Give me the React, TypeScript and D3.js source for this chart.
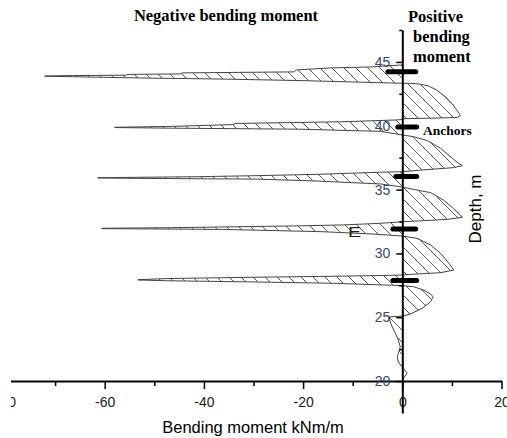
import React, { useEffect, useRef } from 'react';
import * as d3 from 'd3';

// depth (m) and bending moment (kNm/m) along the wall, read top to bottom
const depth = [
  44.76, 44.69, 44.61, 44.53, 44.37, 44.22, 44.14, 44.06, 44.02, 43.96, 43.93, 43.9,
  43.88, 43.84, 43.73, 43.66, 43.54, 43.35, 43.33,
  43.32, 43.28, 43.12, 42.8, 42.33, 41.71, 41.16, 40.81, 40.65, 40.61, 40.55,
  40.49, 40.45, 40.31, 40.18, 40.09, 39.95, 39.88,
  39.86, 39.81, 39.73, 39.56, 39.28,
  39.15, 38.83, 38.24, 37.45, 37.06, 36.87, 36.72, 36.54, 36.4,
  36.36, 36.28, 36.2, 36.09, 36.01, 35.96, 35.93,
  35.91, 35.88, 35.82, 35.67, 35.44, 35.2,
  35.02, 34.76, 34.18, 33.53, 33.01, 32.83, 32.67, 32.56, 32.48,
  32.36, 32.23, 32.15, 32.07, 32.01, 31.97,
  31.94, 31.91, 31.88, 31.7, 31.52, 31.36,
  31.18, 30.66, 30.01, 29.22, 28.7, 28.49, 28.39, 28.31,
  28.27, 28.21, 28.13, 28.03, 27.94,
  27.92, 27.86, 27.77, 27.66, 27.48,
  27.39, 27.13, 26.82, 26.61, 26.21, 25.7, 25.25, 25.09,
  25.02, 24.39, 23.76, 23.21, 22.66, 22.19, 21.88, 21.49, 21.1, 20.63, 20.31, 20.04,
];
const moment = [
  0, -3.4, -5.9, -14.5, -21.4, -21.8, -44.4, -44.8, -55.3, -55.8, -66.5, -72.1,
  -72.1, -66.5, -50.9, -36.8, -20.6, -2.4, 0,
  1.6, 3.2, 5.3, 6.9, 8.5, 10.1, 11.1, 11.7, 11.1, 7.7, 0,
  0, -1.4, -12.5, -33.5, -34.3, -46.5, -58.0,
  -58.0, -46.5, -20.6, -4.4, 0,
  2.2, 5.1, 7.7, 10.1, 11.3, 12.1, 10.3, 4.2, 0,
  -4.4, -10.5, -16.6, -29.3, -41.2, -53.5, -61.4,
  -61.4, -53.5, -29.3, -17.2, -4.4, 0,
  2.2, 5.7, 8.3, 10.3, 11.7, 12.1, 9.1, 4.2, 0,
  -4.4, -11.9, -22.0, -36.8, -47.5, -60.6,
  -60.6, -47.5, -36.2, -16.0, -5.9, 0,
  3.0, 5.7, 7.7, 9.4, 10.4, 7.7, 3.0, 0,
  -3.8, -13.9, -30.7, -47.5, -53.3,
  -53.3, -47.5, -30.7, -13.9, 0,
  2.3, 4.3, 5.7, 6.2, 5.7, 4.0, 1.6, 0,
  -2.8, -2.2, -1.4, -0.8, -0.4, -0.8, -1.0, -0.8, 0, 1.0, 0.4, 0,
];

const anchorDepth = [44.22, 39.91, 36.03, 31.91, 27.88];
const anchorFrom = [-2.9, -0.9, -1.3, -1.9, -1.9];
const anchorTo = [2.7, 2.9, 2.9, 2.7, 2.9];

const xTicks = [-80, -60, -40, -20, 0, 20];
const xMinor = [-70, -50, -30, -10, 10];
const yTicks = [20, 25, 30, 35, 40, 45];
const yMinor = [22.5, 27.5, 32.5, 37.5, 42.5, 47.5];

const sans = '"Liberation Sans", Arial, sans-serif';
const serif = '"Liberation Serif", "Times New Roman", serif';

const App = () => {
  const svgRef = useRef(null);

  const width = 507;
  const height = 438;

  const xScale = d3.scaleLinear().domain([-80, 20]).range([5.5, 501.5]);
  const yScale = d3.scaleLinear().domain([17.5, 47.5]).range([413, 30]);

  useEffect(() => {
    const svg = d3.select(svgRef.current);
    svg.selectAll('*').remove();

    const defs = svg.append('defs');
    defs
      .append('clipPath')
      .attr('id', 'crop')
      .append('rect')
      .attr('x', 11)
      .attr('y', 0)
      .attr('width', width - 11)
      .attr('height', height);

    // diagonal hatching for the moment diagram
    defs
      .append('pattern')
      .attr('id', 'hatch')
      .attr('patternUnits', 'userSpaceOnUse')
      .attr('width', 12)
      .attr('height', 12)
      .append('path')
      .attr('d', 'M0,0L12,12M-3,9L3,15M9,-3L15,3')
      .attr('stroke', '#333')
      .attr('stroke-width', 0.8);

    const g = svg.append('g').attr('clip-path', 'url(#crop)');

    const pts = depth.map((z, i) => ({ z, m: moment[i] }));

    const area = d3
      .area<{ z: number; m: number }>()
      .x0(xScale(0))
      .x1((d) => xScale(d.m))
      .y((d) => yScale(d.z));

    const line = d3
      .line<{ z: number; m: number }>()
      .x((d) => xScale(d.m))
      .y((d) => yScale(d.z));

    g.append('path').datum(pts).attr('fill', 'url(#hatch)').attr('d', area);

    g.append('path')
      .datum(pts)
      .attr('fill', 'none')
      .attr('stroke', '#444')
      .attr('stroke-width', 1)
      .attr('d', line);

    // x axis
    const xAxis = g.append('g').attr('transform', `translate(0, ${yScale(20)})`);
    xAxis.call(
      d3
        .axisBottom(xScale)
        .tickValues(xTicks)
        .tickSize(8)
        .tickPadding(8)
        .tickSizeOuter(0)
        .tickFormat((d) => String(d))
    );
    xAxis
      .append('g')
      .attr('class', 'minor')
      .call(
        d3
          .axisBottom(xScale)
          .tickValues(xMinor)
          .tickSize(5)
          .tickSizeOuter(0)
          .tickFormat(() => '')
      );
    xAxis.select('.minor .domain').remove();
    xAxis.selectAll('.domain').attr('stroke', '#000').attr('stroke-width', 2);
    xAxis.selectAll('line').attr('stroke', '#000').attr('stroke-width', 1.5);
    xAxis
      .selectAll('text')
      .attr('font-size', 14)
      .attr('font-family', sans)
      .attr('fill', '#222');

    // y axis on the zero line
    const yAxis = g.append('g').attr('transform', `translate(${xScale(0)}, 0)`);
    yAxis.call(
      d3
        .axisLeft(yScale)
        .tickValues(yTicks)
        .tickSize(6)
        .tickPadding(6)
        .tickSizeOuter(0)
        .tickFormat((d) => String(d))
    );
    yAxis
      .append('g')
      .attr('class', 'minor')
      .call(
        d3
          .axisLeft(yScale)
          .tickValues(yMinor)
          .tickSize(3)
          .tickSizeOuter(0)
          .tickFormat(() => '')
      );
    yAxis.select('.minor .domain').remove();
    yAxis.selectAll('.domain').attr('stroke', '#000').attr('stroke-width', 2);
    yAxis.selectAll('line').attr('stroke', '#000').attr('stroke-width', 1.5);
    yAxis
      .selectAll('text')
      .attr('font-size', 14)
      .attr('font-family', sans)
      .attr('fill', '#3b4a66');

    // anchors
    g.selectAll('.anchor')
      .data(anchorDepth)
      .enter()
      .append('line')
      .attr('class', 'anchor')
      .attr('x1', (d, i) => xScale(anchorFrom[i]))
      .attr('x2', (d, i) => xScale(anchorTo[i]))
      .attr('y1', (d) => yScale(d))
      .attr('y2', (d) => yScale(d))
      .attr('stroke', '#000')
      .attr('stroke-width', 5)
      .attr('stroke-linecap', 'round');

    const label = (txt: string, x: number, y: number, size: number, font: string, weight: string, anchor = 'middle') =>
      g
        .append('text')
        .attr('x', x)
        .attr('y', y)
        .attr('text-anchor', anchor)
        .attr('font-size', size)
        .attr('font-family', font)
        .attr('font-weight', weight)
        .attr('fill', '#000')
        .text(txt);

    label('Negative bending moment', 226, 21, 16.5, serif, 'bold');
    label('Positive', 408, 21.5, 16.5, serif, 'bold', 'start');
    label('bending', 413, 41.5, 16.5, serif, 'bold', 'start');
    label('moment', 413, 62, 16.5, serif, 'bold', 'start');
    label('Anchors', 423, 134.5, 13.5, serif, 'bold', 'start');
    label('Bending moment kNm/m', 253, 433, 16.5, sans, 'normal');

    g.append('text')
      .attr('transform', 'translate(481, 209) rotate(-90)')
      .attr('text-anchor', 'middle')
      .attr('font-size', 17)
      .attr('font-family', sans)
      .attr('fill', '#000')
      .text('Depth, m');

    g.append('text')
      .attr('x', 348)
      .attr('y', 237)
      .attr('textLength', 13)
      .attr('lengthAdjust', 'spacingAndGlyphs')
      .attr('font-size', 14)
      .attr('font-family', sans)
      .attr('fill', '#222')
      .text('E');
  }, []);

  return (
    <svg
      ref={svgRef}
      width={width}
      height={height}
      style={{ position: 'absolute', left: 0, top: 0, background: '#fff' }}
    />
  );
};

export default App;
